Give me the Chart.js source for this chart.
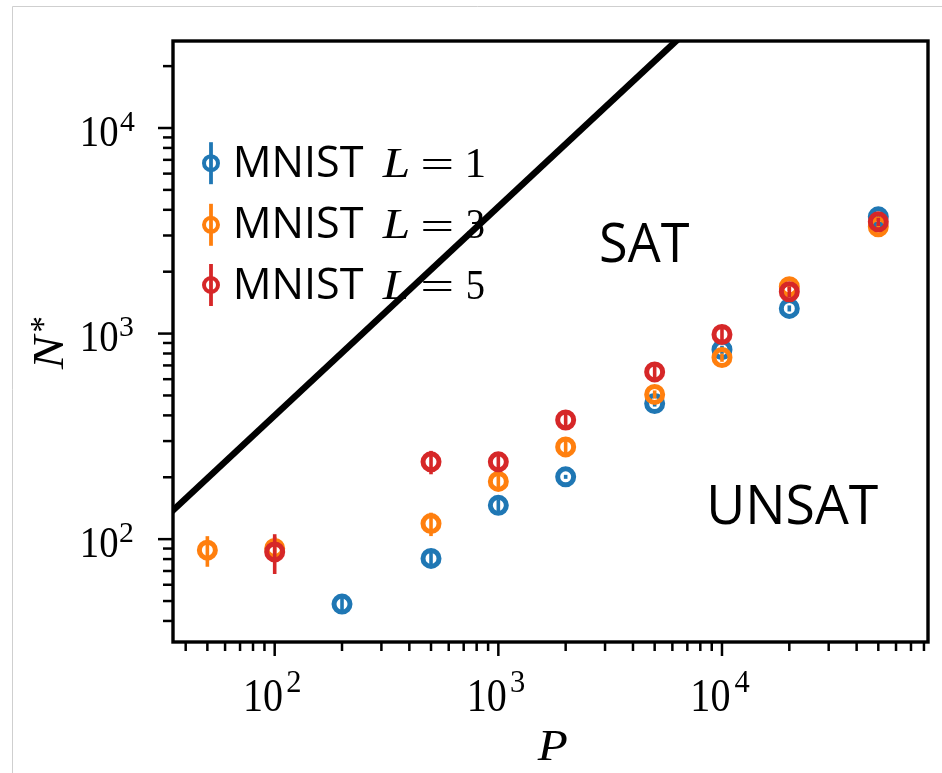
<!DOCTYPE html>
<html><head><meta charset="utf-8">
<script src="https://cdn.jsdelivr.net/npm/chart.js@4.4.1/dist/chart.umd.min.js"></script>
<style>html,body{margin:0;padding:0;background:#fff;} canvas{display:block;}</style>
</head><body>
<canvas id="c" width="942" height="773"></canvas>
<script>
// ---- data ----
const pL1 = [200, 500, 1000, 2000, 5000, 10000, 20000, 50000];
const nL1 = [48.3, 80.6, 146, 201, 457, 835, 1326, 3697];
const eL1 = [3.4, 5.6, 10, 4.5, 15.5, 38, 45, 126];

const pL3 = [50, 100, 500, 1000, 2000, 5000, 10000, 20000, 50000];
const nL3 = [88.4, 90.1, 119, 191, 281, 506, 764, 1689, 3309];
const eL3 = [15, 12.5, 15.5, 15, 23, 23, 35, 78, 115];

const pL5 = [100, 500, 1000, 2000, 5000, 10000, 20000, 50000];
const nL5 = [86.7, 237.8, 237.8, 380, 651, 990, 1597, 3497];
const eL5 = [19, 31, 22, 30, 52, 80, 93, 160];

const boundaryP = [20, 20000];
const boundaryN = [78, 86500];

const seriesNames = ['MNIST', 'MNIST', 'MNIST'];
const seriesDepths = ['1', '3', '5'];
const seriesColors = ['#1f77b4', '#ff7f0e', '#d62728'];

const xMajorTicks = [100, 1000, 10000];
const xMajorExp = ['2', '3', '4'];
const xMinorTicks = [40, 50, 60, 70, 80, 90, 200, 300, 400, 500, 600, 700, 800, 900,
  2000, 3000, 4000, 5000, 6000, 7000, 8000, 9000, 20000, 30000, 40000, 50000, 60000, 70000, 80000];
const yMajorTicks = [100, 1000, 10000];
const yMajorExp = ['2', '3', '4'];
const yMinorTicks = [40, 50, 60, 70, 80, 90, 200, 300, 400, 500, 600, 700, 800, 900,
  2000, 3000, 4000, 5000, 6000, 7000, 8000, 9000, 20000];
const regionLabels = ['SAT', 'UNSAT'];
const xTitle = 'P';
const yTitle = 'N';
const yTitleSup = '*';

const xMin = 35.1, xMax = 83400, yMin = 31.6, yMax = 26500;

// ---- helpers ----
const SERIF = '"Liberation Serif", "DejaVu Serif", serif';
const SANS = '"Open Sans", "Noto Sans", sans-serif';
function inkText(ctx, text, font, left, top, w, h) {
  ctx.save();
  ctx.font = font;
  ctx.textAlign = 'left';
  ctx.textBaseline = 'alphabetic';
  const m = ctx.measureText(text);
  const mw = m.actualBoundingBoxLeft + m.actualBoundingBoxRight;
  const mh = m.actualBoundingBoxAscent + m.actualBoundingBoxDescent;
  const sy = h / mh;
  const sx = (w == null) ? sy : w / mw;
  ctx.translate(left, top);
  ctx.scale(sx, sy);
  ctx.fillText(text, m.actualBoundingBoxLeft, m.actualBoundingBoxAscent);
  ctx.restore();
}
function pts(px, py) { return px.map((p, i) => ({x: p, y: py[i]})); }

const errorBars = {
  id: 'errorBars',
  beforeDatasetDraw(chart, args) {
    const ds = chart.data.datasets[args.index];
    if (!ds.errors) return;
    const {ctx, chartArea: a} = chart;
    const xs = chart.scales.x, ys = chart.scales.y;
    ctx.save();
    ctx.beginPath(); ctx.rect(a.left, a.top, a.right - a.left, a.bottom - a.top); ctx.clip();
    ctx.strokeStyle = ds.borderColor;
    ctx.lineWidth = 3.6;
    ds.data.forEach((d, i) => {
      const e = ds.errors[i];
      const x = xs.getPixelForValue(d.x);
      ctx.beginPath();
      ctx.moveTo(x, ys.getPixelForValue(d.y - e));
      ctx.lineTo(x, ys.getPixelForValue(d.y + e));
      ctx.stroke();
    });
    ctx.restore();
  }
};

const legendAndText = {
  id: 'legendAndText',
  beforeDatasetsDraw(chart) {
    const ctx = chart.ctx;
    ctx.fillStyle = '#000';
    // region labels
    inkText(ctx, regionLabels[0], '60px ' + SANS, 601.7, 222.7, 87.6, 40.6);
    inkText(ctx, regionLabels[1], '60px ' + SANS, 710.7, 484, 167.6, 41);
    // legend
    const baselines = [176.7, 238.3, 298.5];
    seriesNames.forEach((name, i) => {
      const b = baselines[i];
      const cy = b - 13.5, cx = 211;
      ctx.save();
      ctx.strokeStyle = seriesColors[i];
      ctx.lineWidth = 3.8;
      ctx.beginPath(); ctx.moveTo(cx, cy - 21); ctx.lineTo(cx, cy + 21); ctx.stroke();
      ctx.lineWidth = 4;
      ctx.beginPath(); ctx.arc(cx, cy, 7, 0, Math.PI * 2); ctx.stroke();
      ctx.restore();
      ctx.fillStyle = '#000';
      inkText(ctx, name, '44px ' + SANS, 236.7, b - 31.7, 126.6, 31.7);
      inkText(ctx, 'L', 'italic 42px ' + SERIF, 381.5, b - 28, 27, 28);
      inkText(ctx, '=', '42px ' + SERIF, 423, b - 16.5, 28.7, 10.5);
      inkText(ctx, seriesDepths[i], '42px ' + SERIF, 467.5, b - 28, 16.5, 28);
    });
  }
};

const axesDraw = {
  id: 'axesDraw',
  beforeDraw(chart) {
    const ctx = chart.ctx;
    ctx.save();
    ctx.fillStyle = '#fff';
    ctx.fillRect(0, 0, chart.width, chart.height);
    ctx.strokeStyle = '#cfcfcf';
    ctx.lineWidth = 1;
    ctx.beginPath(); ctx.moveTo(12.5, chart.height); ctx.lineTo(12.5, 6.5); ctx.lineTo(chart.width, 6.5); ctx.stroke();
    ctx.restore();
  },
  afterDraw(chart) {
    const {ctx, chartArea: a} = chart;
    const xs = chart.scales.x, ys = chart.scales.y;
    ctx.save();
    ctx.strokeStyle = '#000';
    ctx.fillStyle = '#000';
    // ticks
    ctx.lineWidth = 2.5;
    const tick = (x1, y1, x2, y2) => { ctx.beginPath(); ctx.moveTo(x1, y1); ctx.lineTo(x2, y2); ctx.stroke(); };
    xMinorTicks.forEach(v => { const x = xs.getPixelForValue(v); tick(x, a.bottom, x, a.bottom + 9); });
    xMajorTicks.forEach(v => { const x = xs.getPixelForValue(v); tick(x, a.bottom, x, a.bottom + 14); });
    yMinorTicks.forEach(v => { const y = ys.getPixelForValue(v); tick(a.left, y, a.left - 10, y); });
    yMajorTicks.forEach(v => { const y = ys.getPixelForValue(v); tick(a.left, y, a.left - 15, y); });
    // frame
    ctx.lineWidth = 3.4;
    ctx.strokeRect(a.left, a.top, a.right - a.left, a.bottom - a.top);
    // tick labels
    xMajorTicks.forEach((v, i) => {
      const x = xs.getPixelForValue(v);
      inkText(ctx, '10', '41px ' + SERIF, x - 28.7, 680.7, 35.7, 30);
      inkText(ctx, xMajorExp[i], '29px ' + SERIF, x + 12.6, 671.7, null, 20);
    });
    yMajorTicks.forEach((v, i) => {
      const y = ys.getPixelForValue(v);
      inkText(ctx, '10', '41px ' + SERIF, 82.7, y - 10.7, 34.5, 28.5);
      inkText(ctx, yMajorExp[i], '29px ' + SERIF, 120, y - 16.7, null, 19.5);
    });
    // axis titles
    inkText(ctx, xTitle, 'italic 41px ' + SERIF, 536.6, 731.7, 30, 28.3);
    ctx.translate(63.3, 370.6);
    ctx.rotate(-Math.PI / 2);
    inkText(ctx, yTitle, 'italic 41px ' + SERIF, 0, -28.3, 38, 28.3);
    inkText(ctx, yTitleSup, '30px ' + SERIF, 39, -31.6, 14.5, 13.5);
    ctx.restore();
  }
};

const markerDs = (label, px, py, err, color, order) => ({
  type: 'scatter', label, data: pts(px, py), errors: err,
  borderColor: color, backgroundColor: 'rgba(0,0,0,0)',
  pointBorderColor: color, pointBackgroundColor: 'rgba(0,0,0,0)',
  borderWidth: 5, pointBorderWidth: 5, pointHoverBorderWidth: 5,
  pointStyle: 'circle', pointRadius: 8, pointHoverRadius: 8,
  order, clip: 0
});

new Chart(document.getElementById('c'), {
  data: {
    datasets: [
      markerDs('MNIST L = 1', pL1, nL1, eL1, seriesColors[0], 3),
      markerDs('MNIST L = 3', pL3, nL3, eL3, seriesColors[1], 2),
      markerDs('MNIST L = 5', pL5, nL5, eL5, seriesColors[2], 1),
      { type: 'line', label: 'boundary', data: pts(boundaryP, boundaryN),
        borderColor: '#000', borderWidth: 6.5, pointRadius: 0, fill: false, order: 0, clip: 0 }
    ]
  },
  options: {
    responsive: false,
    devicePixelRatio: 1,
    animation: false,
    events: [],
    layout: { padding: { left: 0, right: 14, top: 41, bottom: 0 } },
    plugins: { legend: { display: false }, tooltip: { enabled: false } },
    scales: {
      x: { type: 'logarithmic', min: xMin, max: xMax,
        ticks: { display: false }, grid: { display: false }, border: { display: false },
        afterFit: s => { s.height = 131; } },
      y: { type: 'logarithmic', min: yMin, max: yMax,
        ticks: { display: false }, grid: { display: false }, border: { display: false },
        afterFit: s => { s.width = 173; } }
    }
  },
  plugins: [axesDraw, errorBars, legendAndText]
});
</script>
</body></html>
